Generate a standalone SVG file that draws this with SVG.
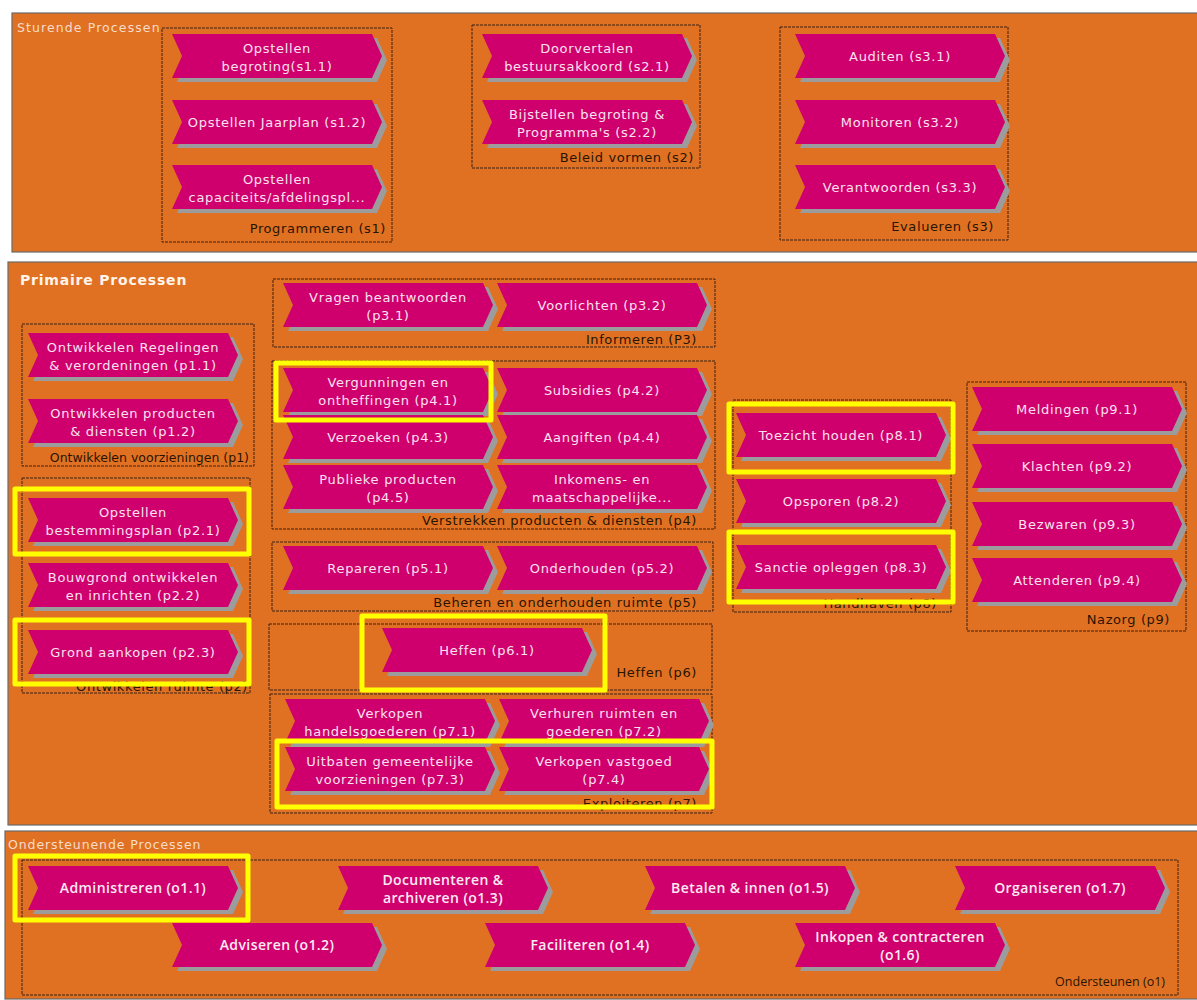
<svg xmlns="http://www.w3.org/2000/svg" xmlns:xlink="http://www.w3.org/1999/xlink" width="1197" height="1000" viewBox="0 0 1197 1000">
<style>
.sec{fill:#E07122;stroke:#6a6a6a;stroke-width:1.2}
.grp{fill:none;stroke:#3e2210;stroke-width:1;stroke-dasharray:3 1}
.ch{fill:#CF006E}
.sh{fill:#9c9c9c}
.t{font-family:"DejaVu Sans",Verdana,sans-serif;font-size:13px;letter-spacing:0.7px;fill:#F9E2EE;text-anchor:middle}
.tb{font-family:"Open Sans","DejaVu Sans",sans-serif;font-weight:600;font-size:14px;letter-spacing:0.4px;fill:#FCEAF3;text-anchor:middle}
.gl{font-family:"DejaVu Sans",Verdana,sans-serif;font-size:13px;letter-spacing:0.6px;fill:#2a1400;text-anchor:end}
.gl2{font-family:"Open Sans","DejaVu Sans",sans-serif;font-size:12.5px;fill:#2a1400;text-anchor:end}
.st{font-family:"DejaVu Sans",Verdana,sans-serif;font-size:12.5px;fill:#F6DCCB}
.pt{font-family:"DejaVu Sans",Verdana,sans-serif;font-size:14px;font-weight:bold;fill:#FFF4EA;letter-spacing:0.8px}
.hl{fill:none;stroke:#FFFF00;stroke-width:5;stroke-linejoin:round}
</style>
<defs>
<path id="chev" d="M0,0 H200 L210,22 L200,44 H0 L10,22 Z"/>
<g id="node">
<use href="#chev" x="5" y="4" class="sh"/>
<use href="#chev" class="ch"/>
</g>
</defs>
<rect width="1197" height="1000" fill="#ffffff"/>

<!-- Sections -->
<g id="sec-sturende">
<rect class="sec" x="12" y="13" width="1186" height="239"/>
<text class="st" x="17" y="32" letter-spacing="1.1">Sturende Processen</text>
</g>
<g id="sec-primaire">
<rect class="sec" x="8" y="262" width="1190" height="563"/>
<text class="pt" x="20" y="285">Primaire Processen</text>
</g>
<g id="sec-ondersteunende">
<rect class="sec" x="5" y="831" width="1193" height="168"/>
<text class="st" x="8" y="849" letter-spacing="0.9">Ondersteunende Processen</text>
</g>

<!-- Group boxes -->
<g id="grp-s1"><rect class="grp" x="162" y="28" width="230" height="214"/><text class="gl" x="386" y="233">Programmeren (s1)</text></g>
<g id="grp-s2"><rect class="grp" x="472" y="25" width="228" height="143"/><text class="gl" x="694" y="162">Beleid vormen (s2)</text></g>
<g id="grp-s3"><rect class="grp" x="780" y="27" width="228" height="213"/><text class="gl" x="994" y="231">Evalueren (s3)</text></g>
<g id="grp-p1"><rect class="grp" x="22" y="324" width="232" height="142"/><text class="gl" x="249" y="462" style="font-size:12.5px;letter-spacing:0px">Ontwikkelen voorzieningen (p1)</text></g>
<g id="grp-p2"><rect class="grp" x="22" y="478" width="228" height="215"/><text class="gl" x="248" y="691">Ontwikkelen ruimte (p2)</text></g>
<g id="grp-p3"><rect class="grp" x="273" y="279" width="442" height="68"/><text class="gl" x="697" y="344">Informeren (P3)</text></g>
<g id="grp-p4"><rect class="grp" x="272" y="361" width="443" height="168"/><text class="gl" x="697" y="525">Verstrekken producten &amp; diensten (p4)</text></g>
<g id="grp-p5"><rect class="grp" x="272" y="542" width="441" height="69"/><text class="gl" x="697" y="607">Beheren en onderhouden ruimte (p5)</text></g>
<g id="grp-p6"><rect class="grp" x="269" y="624" width="443" height="66"/><text class="gl" x="697" y="677">Heffen (p6)</text></g>
<g id="grp-p7"><rect class="grp" x="270" y="694" width="442" height="119"/><text class="gl" x="697" y="808">Exploiteren (p7)</text></g>
<g id="grp-p8"><rect class="grp" x="733" y="400" width="218" height="212"/><text class="gl" x="937" y="608">Handhaven (p8)</text></g>
<g id="grp-p9"><rect class="grp" x="967" y="382" width="219" height="249"/><text class="gl" x="1170" y="624">Nazorg (p9)</text></g>
<g id="grp-o1"><rect class="grp" x="22" y="860" width="1156" height="135"/><text class="gl2" x="1165" y="986">Ondersteunen (o1)</text></g>

<!-- Sturende nodes -->
<g id="s1-1" transform="translate(172,34)"><use href="#node"/><text class="t" x="105" y="18.5">Opstellen</text><text class="t" x="105" y="36.5">begroting(s1.1)</text></g>
<g id="s1-2" transform="translate(172,100)"><use href="#node"/><text class="t" x="105" y="26.5">Opstellen Jaarplan (s1.2)</text></g>
<g id="s1-3" transform="translate(172,165)"><use href="#node"/><text class="t" x="105" y="18.5">Opstellen</text><text class="t" x="105" y="36.5">capaciteits/afdelingspl...</text></g>
<g id="s2-1" transform="translate(482,34)"><use href="#node"/><text class="t" x="105" y="18.5">Doorvertalen</text><text class="t" x="105" y="36.5">bestuursakkoord (s2.1)</text></g>
<g id="s2-2" transform="translate(482,100)"><use href="#node"/><text class="t" x="105" y="18.5">Bijstellen begroting &amp;</text><text class="t" x="105" y="36.5">Programma's (s2.2)</text></g>
<g id="s3-1" transform="translate(795,34)"><use href="#node"/><text class="t" x="105" y="26.5">Auditen (s3.1)</text></g>
<g id="s3-2" transform="translate(795,100)"><use href="#node"/><text class="t" x="105" y="26.5">Monitoren (s3.2)</text></g>
<g id="s3-3" transform="translate(795,165)"><use href="#node"/><text class="t" x="105" y="26.5">Verantwoorden (s3.3)</text></g>

<!-- Primaire nodes -->
<g id="p1-1" transform="translate(28,333)"><use href="#node"/><text class="t" x="105" y="18.5">Ontwikkelen Regelingen</text><text class="t" x="105" y="36.5">&amp; verordeningen (p1.1)</text></g>
<g id="p1-2" transform="translate(28,399)"><use href="#node"/><text class="t" x="105" y="18.5">Ontwikkelen producten</text><text class="t" x="105" y="36.5">&amp; diensten (p1.2)</text></g>
<g id="p2-1" transform="translate(28,498)"><use href="#node"/><text class="t" x="105" y="18.5">Opstellen</text><text class="t" x="105" y="36.5">bestemmingsplan (p2.1)</text></g>
<g id="p2-2" transform="translate(28,563)"><use href="#node"/><text class="t" x="105" y="18.5">Bouwgrond ontwikkelen</text><text class="t" x="105" y="36.5">en inrichten (p2.2)</text></g>
<g id="p2-3" transform="translate(28,630)"><use href="#node"/><text class="t" x="105" y="26.5">Grond aankopen (p2.3)</text></g>
<g id="p3-1" transform="translate(283,283)"><use href="#node"/><text class="t" x="105" y="18.5">Vragen beantwoorden</text><text class="t" x="105" y="36.5">(p3.1)</text></g>
<g id="p3-2" transform="translate(497,283)"><use href="#node"/><text class="t" x="105" y="26.5">Voorlichten (p3.2)</text></g>
<g id="p4-1" transform="translate(283,368)"><use href="#node"/><text class="t" x="105" y="18.5">Vergunningen en</text><text class="t" x="105" y="36.5">ontheffingen (p4.1)</text></g>
<g id="p4-2" transform="translate(497,368)"><use href="#node"/><text class="t" x="105" y="26.5">Subsidies (p4.2)</text></g>
<g id="p4-3" transform="translate(283,415)"><use href="#node"/><text class="t" x="105" y="26.5">Verzoeken (p4.3)</text></g>
<g id="p4-4" transform="translate(497,415)"><use href="#node"/><text class="t" x="105" y="26.5">Aangiften (p4.4)</text></g>
<g id="p4-5" transform="translate(283,465)"><use href="#node"/><text class="t" x="105" y="18.5">Publieke producten</text><text class="t" x="105" y="36.5">(p4.5)</text></g>
<g id="p4-6" transform="translate(497,465)"><use href="#node"/><text class="t" x="105" y="18.5">Inkomens- en</text><text class="t" x="105" y="36.5">maatschappelijke...</text></g>
<g id="p5-1" transform="translate(283,546)"><use href="#node"/><text class="t" x="105" y="26.5">Repareren (p5.1)</text></g>
<g id="p5-2" transform="translate(497,546)"><use href="#node"/><text class="t" x="105" y="26.5">Onderhouden (p5.2)</text></g>
<g id="p6-1" transform="translate(382,628)"><use href="#node"/><text class="t" x="105" y="26.5">Heffen (p6.1)</text></g>
<g id="p7-1" transform="translate(285,699)"><use href="#node"/><text class="t" x="105" y="18.5">Verkopen</text><text class="t" x="105" y="36.5">handelsgoederen (p7.1)</text></g>
<g id="p7-2" transform="translate(499,699)"><use href="#node"/><text class="t" x="105" y="18.5">Verhuren ruimten en</text><text class="t" x="105" y="36.5">goederen (p7.2)</text></g>
<g id="p7-3" transform="translate(285,747)"><use href="#node"/><text class="t" x="105" y="18.5">Uitbaten gemeentelijke</text><text class="t" x="105" y="36.5">voorzieningen (p7.3)</text></g>
<g id="p7-4" transform="translate(499,747)"><use href="#node"/><text class="t" x="105" y="18.5">Verkopen vastgoed</text><text class="t" x="105" y="36.5">(p7.4)</text></g>
<g id="p8-1" transform="translate(736,413)"><use href="#node"/><text class="t" x="105" y="26.5">Toezicht houden (p8.1)</text></g>
<g id="p8-2" transform="translate(736,479)"><use href="#node"/><text class="t" x="105" y="26.5">Opsporen (p8.2)</text></g>
<g id="p8-3" transform="translate(736,545)"><use href="#node"/><text class="t" x="105" y="26.5">Sanctie opleggen (p8.3)</text></g>
<g id="p9-1" transform="translate(972,387)"><use href="#node"/><text class="t" x="105" y="26.5">Meldingen (p9.1)</text></g>
<g id="p9-2" transform="translate(972,444)"><use href="#node"/><text class="t" x="105" y="26.5">Klachten (p9.2)</text></g>
<g id="p9-3" transform="translate(972,502)"><use href="#node"/><text class="t" x="105" y="26.5">Bezwaren (p9.3)</text></g>
<g id="p9-4" transform="translate(972,558)"><use href="#node"/><text class="t" x="105" y="26.5">Attenderen (p9.4)</text></g>

<!-- Ondersteunende nodes -->
<g id="o1-1" transform="translate(28,866)"><use href="#node"/><text class="tb" x="105" y="27">Administreren (o1.1)</text></g>
<g id="o1-2" transform="translate(172,923)"><use href="#node"/><text class="tb" x="105" y="27">Adviseren (o1.2)</text></g>
<g id="o1-3" transform="translate(338,866)"><use href="#node"/><text class="tb" x="105" y="18.5">Documenteren &amp;</text><text class="tb" x="105" y="36.5">archiveren (o1.3)</text></g>
<g id="o1-4" transform="translate(485,923)"><use href="#node"/><text class="tb" x="105" y="27">Faciliteren (o1.4)</text></g>
<g id="o1-5" transform="translate(645,866)"><use href="#node"/><text class="tb" x="105" y="27">Betalen &amp; innen (o1.5)</text></g>
<g id="o1-6" transform="translate(795,923)"><use href="#node"/><text class="tb" x="105" y="18.5">Inkopen &amp; contracteren</text><text class="tb" x="105" y="36.5">(o1.6)</text></g>
<g id="o1-7" transform="translate(955,866)"><use href="#node"/><text class="tb" x="105" y="27">Organiseren (o1.7)</text></g>

<!-- Yellow highlights -->
<g id="highlights">
<rect class="hl" x="276" y="363" width="215" height="57"/>
<rect class="hl" x="15" y="489" width="234" height="65"/>
<rect class="hl" x="15" y="620" width="234" height="64"/>
<rect class="hl" x="362" y="616" width="243" height="74"/>
<rect class="hl" x="729" y="404" width="224" height="68"/>
<rect class="hl" x="729" y="532" width="224" height="70"/>
<rect class="hl" x="277" y="741" width="435" height="66"/>
<rect class="hl" x="15" y="856" width="233" height="64"/>
</g>
</svg>
